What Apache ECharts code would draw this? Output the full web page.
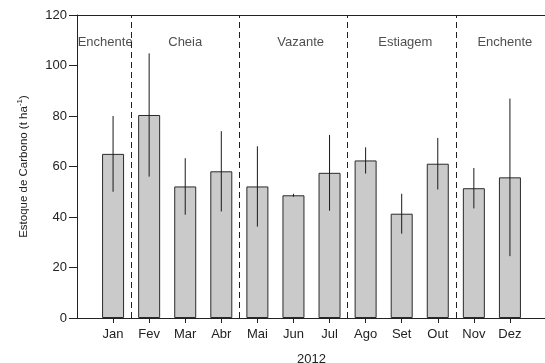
<!DOCTYPE html>
<html>
<head>
<meta charset="utf-8">
<script src="https://cdn.jsdelivr.net/npm/echarts@6/dist/echarts.min.js"></script>
<style>
  html, body { margin: 0; padding: 0; background: #fff; }
  #chart { width: 545px; height: 363px; }
</style>
</head>
<body>
<div id="chart"></div>
<script>
// Monthly carbon stock, 2012 (mean ± error)
const months = ['Jan', 'Fev', 'Mar', 'Abr', 'Mai', 'Jun', 'Jul', 'Ago', 'Set', 'Out', 'Nov', 'Dez'];
const monthPos = [1, 2, 3, 4, 5, 6, 7, 8, 9, 10, 11, 12];
const meanStock = [65, 80.4, 52.1, 58.1, 52.1, 48.6, 57.5, 62.4, 41.3, 61.1, 51.4, 55.7];
const errStock = [15, 24.4, 11.2, 15.9, 15.9, 0.6, 15, 5.2, 7.9, 10.2, 8, 31.2];

// Hydrological season boundaries and labels
const seasonBounds = [1.5, 4.5, 7.5, 10.5];
const seasonNames = ['Enchente', 'Cheia', 'Vazante', 'Estiagem', 'Enchente'];
const seasonPos = [0.78, 3, 6.2, 9.1, 11.86];
const seasonLabelY = 109;

const yTicks = { min: 0, max: 120, interval: 20 };

const barData = monthPos.map((x, i) => [x, meanStock[i]]);
const errData = monthPos.map((x, i) => [x, meanStock[i] - errStock[i], meanStock[i] + errStock[i]]);
const seasonData = seasonPos.map((x, i) => ({ value: [x, seasonLabelY], name: seasonNames[i] }));

const FONT = 'Liberation Sans, Arial, sans-serif';
const TXT = '#222';

const chart = echarts.init(document.getElementById('chart'));
chart.setOption({
  animation: false,
  backgroundColor: '#fff',
  grid: { left: 77, top: 15, width: 469, height: 303, containLabel: false, outerBoundsMode: 'none' },
  xAxis: [{
    type: 'value', min: 0, max: 13, interval: 1,
    name: '2012', nameLocation: 'middle', nameGap: 35,
    nameTextStyle: { fontFamily: FONT, fontSize: 13, color: TXT },
    axisLine: { show: true, onZero: false, lineStyle: { color: '#222', width: 1 } },
    axisTick: { show: true, inside: false, length: 5, customValues: monthPos, lineStyle: { color: '#222' } },
    axisLabel: {
      customValues: monthPos, margin: 10,
      fontFamily: FONT, fontSize: 13, color: TXT,
      formatter: v => months[Math.round(v) - 1] || ''
    },
    splitLine: { show: false }
  }, {
    // plain frame line along the top of the plot
    type: 'value', min: 0, max: 13, position: 'top',
    axisLine: { show: true, onZero: false, lineStyle: { color: '#222', width: 1 } },
    axisTick: { show: false }, axisLabel: { show: false }, splitLine: { show: false }
  }],
  yAxis: {
    type: 'value', min: yTicks.min, max: yTicks.max, interval: yTicks.interval,
    name: '{a|Estoque de Carbono (t ha}{s|-1}{a|)}',
    nameLocation: 'middle', nameGap: 46, nameRotate: 90,
    nameTextStyle: {
      rich: {
        a: { fontFamily: FONT, fontSize: 11.5, color: TXT, lineHeight: 14 },
        s: { fontFamily: FONT, fontSize: 8, color: TXT, lineHeight: 14, padding: [0, 0, 8, 0] }
      }
    },
    axisLine: { show: true, onZero: false, lineStyle: { color: '#222', width: 1 } },
    axisTick: { show: true, inside: false, length: 8, lineStyle: { color: '#222' } },
    axisLabel: { margin: 10, fontFamily: FONT, fontSize: 13, color: TXT },
    splitLine: { show: false }
  },
  series: [{
    type: 'bar',
    data: barData,
    barWidth: 22,
    itemStyle: { color: '#cacaca', borderColor: '#2a2a2a', borderWidth: 1 },
    markLine: {
      silent: true, symbol: 'none',
      label: { show: false },
      lineStyle: { color: '#222', type: [6, 4], width: 1 },
      data: seasonBounds.map(v => ({ xAxis: v }))
    },
    z: 2
  }, {
    type: 'custom',
    data: errData,
    encode: { x: 0, y: [1, 2] },
    renderItem: (params, api) => {
      const x = api.value(0);
      const p1 = api.coord([x, api.value(1)]);
      const p2 = api.coord([x, api.value(2)]);
      return {
        type: 'line',
        shape: { x1: p1[0], y1: p1[1], x2: p2[0], y2: p2[1] },
        style: { stroke: '#1a1a1a', lineWidth: 1 }
      };
    },
    z: 3
  }, {
    type: 'scatter',
    data: seasonData,
    symbolSize: 0,
    label: {
      show: true, position: 'inside',
      formatter: p => p.name,
      fontFamily: FONT, fontSize: 13, color: TXT
    },
    z: 4
  }]
});
</script>
</body>
</html>
